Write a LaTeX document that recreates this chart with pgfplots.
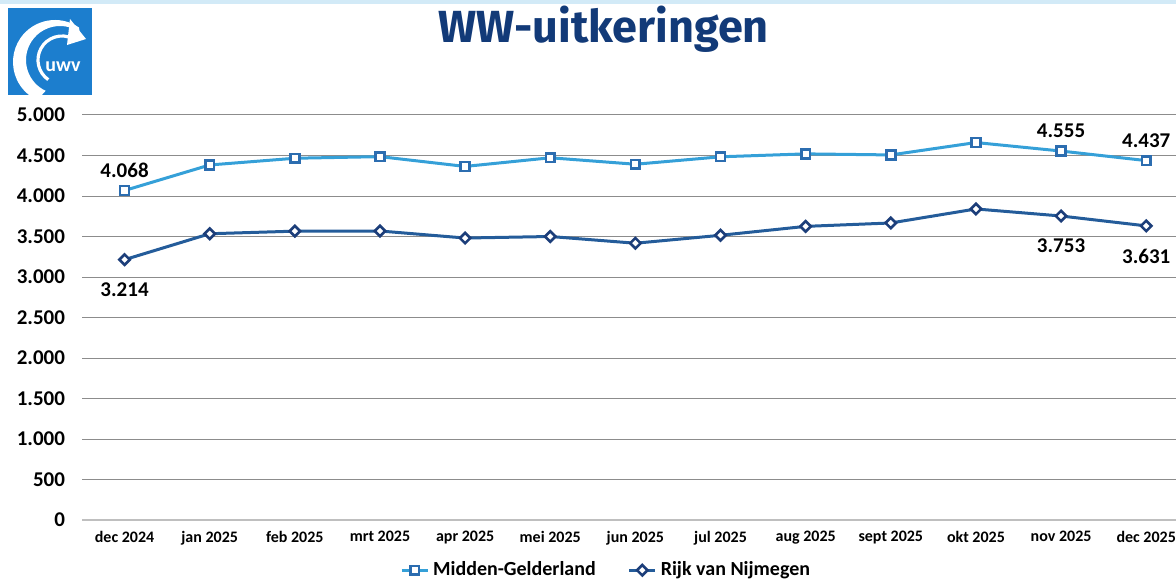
\documentclass[border=0pt]{standalone}
\usepackage{fontspec}
\setmainfont{Carlito}
\newfontfamily\titlefont{Fira Sans}
\usepackage{pgfplots}
\usepackage{pgfplotstable}
\pgfplotsset{compat=1.18}

\definecolor{midline}{HTML}{35A0D8}
\definecolor{midmark}{HTML}{2C6DB0}
\definecolor{rijkline}{HTML}{245C9A}
\definecolor{rijkmark}{HTML}{1C3E7A}
\definecolor{titleblue}{HTML}{123A78}
\definecolor{logoblue}{HTML}{1C7ECE}
\definecolor{stripblue}{HTML}{D2EAF7}

\pgfplotstableread{
x y
0 4068
1 4383
2 4466
3 4486
4 4365
5 4472
6 4392
7 4484
8 4520
9 4507
10 4660
11 4555
12 4437
}\midden

\pgfplotstableread{
x y
0 3214
1 3534
2 3566
3 3568
4 3481
5 3500
6 3417
7 3515
8 3625
9 3667
10 3840
11 3753
12 3631
}\rijk

\begin{document}
\begin{tikzpicture}
\useasboundingbox (0,0) rectangle (588pt,289.5pt);
% top strip
\fill[stripblue] (0,287.5pt) rectangle (588pt,289.5pt);
% logo (pixel coords: X=0.5x, Y=0.5(579-y))
\fill[logoblue] (4pt,242pt) rectangle (46pt,285.5pt);
\begin{scope}
\clip (4pt,242pt) rectangle (46pt,285.5pt);
% crescent: outer circle centre (55,62) r42, inner centre (60,60) r34
\fill[white] ({27.5pt+21pt*cos(55)},{258.5pt+21pt*sin(55)})
   arc[start angle=55, end angle=245, radius=21pt]
   -- ({30pt+17pt*cos(245)},{259.5pt+17pt*sin(245)})
   arc[start angle=245, end angle=55, radius=17pt] -- cycle;
% inner thin arc
\draw[white, line width=1.6pt] ({31pt+12pt*cos(62)},{259.5pt+12pt*sin(62)})
   arc[start angle=62, end angle=235, radius=12pt];
% arrow head
\fill[white] (35pt,280pt) -- (43pt,270pt) -- (33.5pt,267pt) -- cycle;
\end{scope}
\node[white, font=\bfseries\fontsize{10}{11}\selectfont, anchor=base] at (31.5pt,253.5pt) {uwv};
% title
\node[titleblue, font=\titlefont\bfseries\fontsize{22.5}{26}\selectfont, anchor=base] at (301.75pt,268pt) {WW-uitkeringen};

\begin{axis}[
  at={(41pt,29.5pt)}, anchor=south west,
  scale only axis, width=547pt, height=202.5pt,
  xmin=-0.5, xmax=12.35, ymin=0, ymax=5000,
  axis line style={draw=none},
  tick style={draw=none},
  ytick={500,1000,...,5000},
  extra y ticks={0},
  extra y tick style={grid style={color=black!25, line width=1.3pt}},
  ymajorgrids,
  grid style={color=black!45, line width=0.5pt},
  xtick={0,...,12},
  xticklabels={dec 2024,jan 2025,feb 2025,mrt 2025,apr 2025,mei 2025,jun 2025,jul 2025,aug 2025,sept 2025,okt 2025,nov 2025,dec 2025},
  x tick label style={font=\bfseries\fontsize{8}{9}\selectfont, yshift=-2pt},
  y tick label style={font=\bfseries\fontsize{10.5}{12}\selectfont, anchor=east, xshift=-5pt},
  /pgf/number format/.cd, 1000 sep={.}, assume math mode=true,
  /pgfplots/.cd,
  legend columns=2,
  legend style={draw=none, fill=none, at={(axis description cs:0.48,-0.124)}, anchor=center,
    font=\bfseries\fontsize{10}{12}\selectfont,
    /tikz/every even column/.append style={column sep=14pt}},
  legend image code/.code={\draw[#1, mark repeat=2, mark phase=2] plot coordinates {(0pt,0pt) (6.5pt,0pt) (13pt,0pt)};},
  clip=false,
]
\addplot[midline, line width=1.5pt, mark=square*, mark size=2.2pt,
  mark options={draw=midmark, fill=white, line width=1.3pt, solid}] table[x=x,y=y] {\midden};
\addlegendentry{Midden-Gelderland}
\addplot[rijkline, line width=1.5pt, mark=square*, mark size=1.85pt,
  mark options={draw=rijkmark, fill=white, line width=1.3pt, solid, rotate=45}] table[x=x,y=y] {\rijk};
\addlegendentry{Rijk van Nijmegen}

% labels above
\addplot[draw=none, mark=none, forget plot, point meta=explicit symbolic,
  nodes near coords, nodes near coords style={anchor=south, yshift=3pt, text=black, font=\bfseries\fontsize{10.5}{12}\selectfont}]
  coordinates {(0,4068) [4.068] (11,4555) [4.555] (12,4437) [4.437]};
\addplot[draw=none, mark=none, forget plot, point meta=explicit symbolic,
  nodes near coords, nodes near coords style={anchor=north, yshift=-8pt, text=black, font=\bfseries\fontsize{10.5}{12}\selectfont}]
  coordinates {(0,3214) [3.214] (11,3753) [3.753] (12,3631) [3.631]};
\end{axis}
\end{tikzpicture}
\end{document}
